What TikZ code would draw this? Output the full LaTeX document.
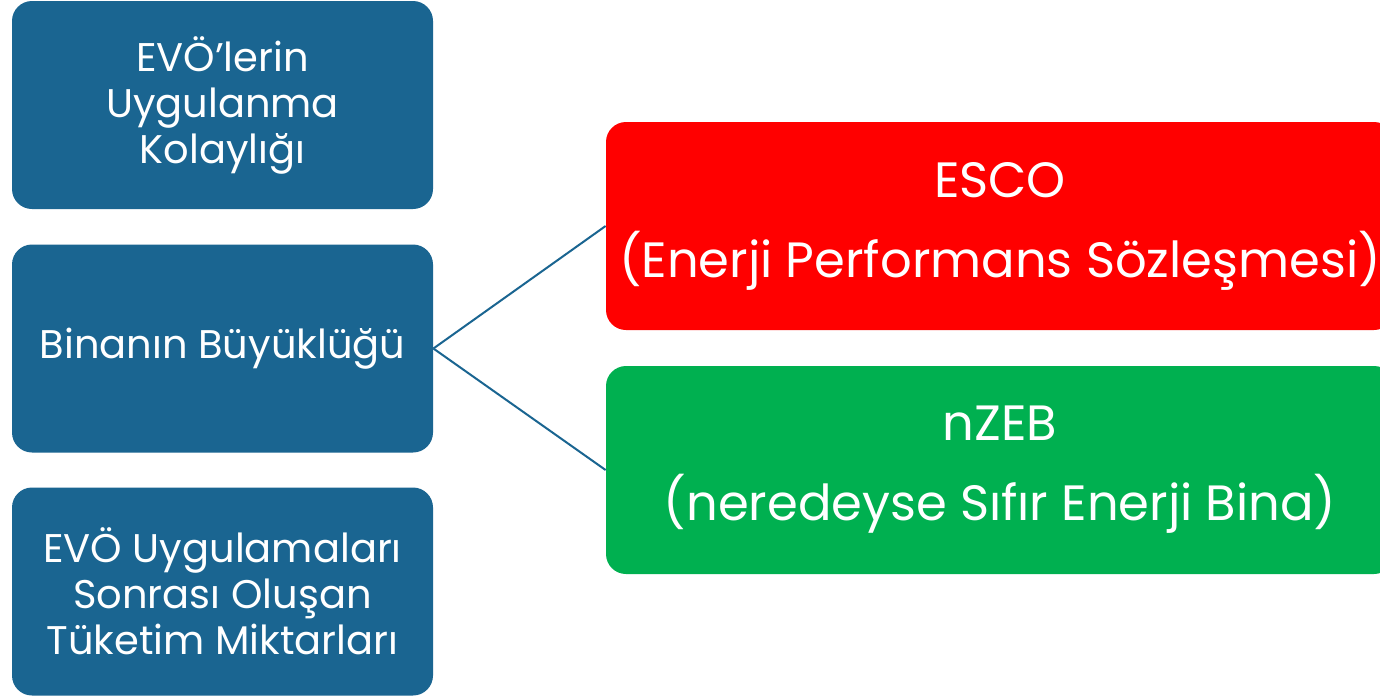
\documentclass[tikz,border=0pt]{standalone}
\usepackage{fontspec}
\setmainfont{Poppins}
\definecolor{boxblue}{HTML}{1A6591}
\definecolor{boxred}{HTML}{FF0000}
\definecolor{boxgreen}{HTML}{00B050}
\begin{document}
\begin{tikzpicture}[x=0.5pt,y=-0.5pt,
  leftbox/.style={draw=none,fill=boxblue,rounded corners=10pt,text=white,
    minimum width=210.5pt,minimum height=104pt,align=center,inner sep=0pt,
    font=\fontsize{20}{23}\selectfont},
  rightbox/.style={draw=none,rounded corners=10pt,text=white,
    minimum width=394pt,minimum height=104pt,align=center,inner sep=0pt,
    font=\fontsize{24.8}{40}\selectfont},
  link/.style={draw=boxblue,line width=1pt}]
  \useasboundingbox[fill=white] (0,0) rectangle (1380,698);
  \node[leftbox] (ease) at (222.5,105) {EVÖ’lerin\\Uygulanma\\Kolaylığı};
  \node[leftbox] (size) at (222.5,348.5) {Binanın Büyüklüğü};
  \node[leftbox] (use) at (222.5,591.5) {EVÖ Uygulamaları\\Sonrası Oluşan\\Tüketim Miktarları};
  \node[rightbox,fill=boxred] (esco) at (1000,226) {\raisebox{-2pt}{ESCO}\\\raisebox{-2pt}{(Enerji Performans Sözleşmesi)}};
  \node[rightbox,fill=boxgreen] (nzeb) at (1000,470) {\raisebox{-2pt}{nZEB}\\\raisebox{-2pt}{(neredeyse Sıfır Enerji Bina)}};
  \draw[link] (size.east) -- (esco.west);
  \draw[link] (size.east) -- (nzeb.west);
\end{tikzpicture}
\end{document}
